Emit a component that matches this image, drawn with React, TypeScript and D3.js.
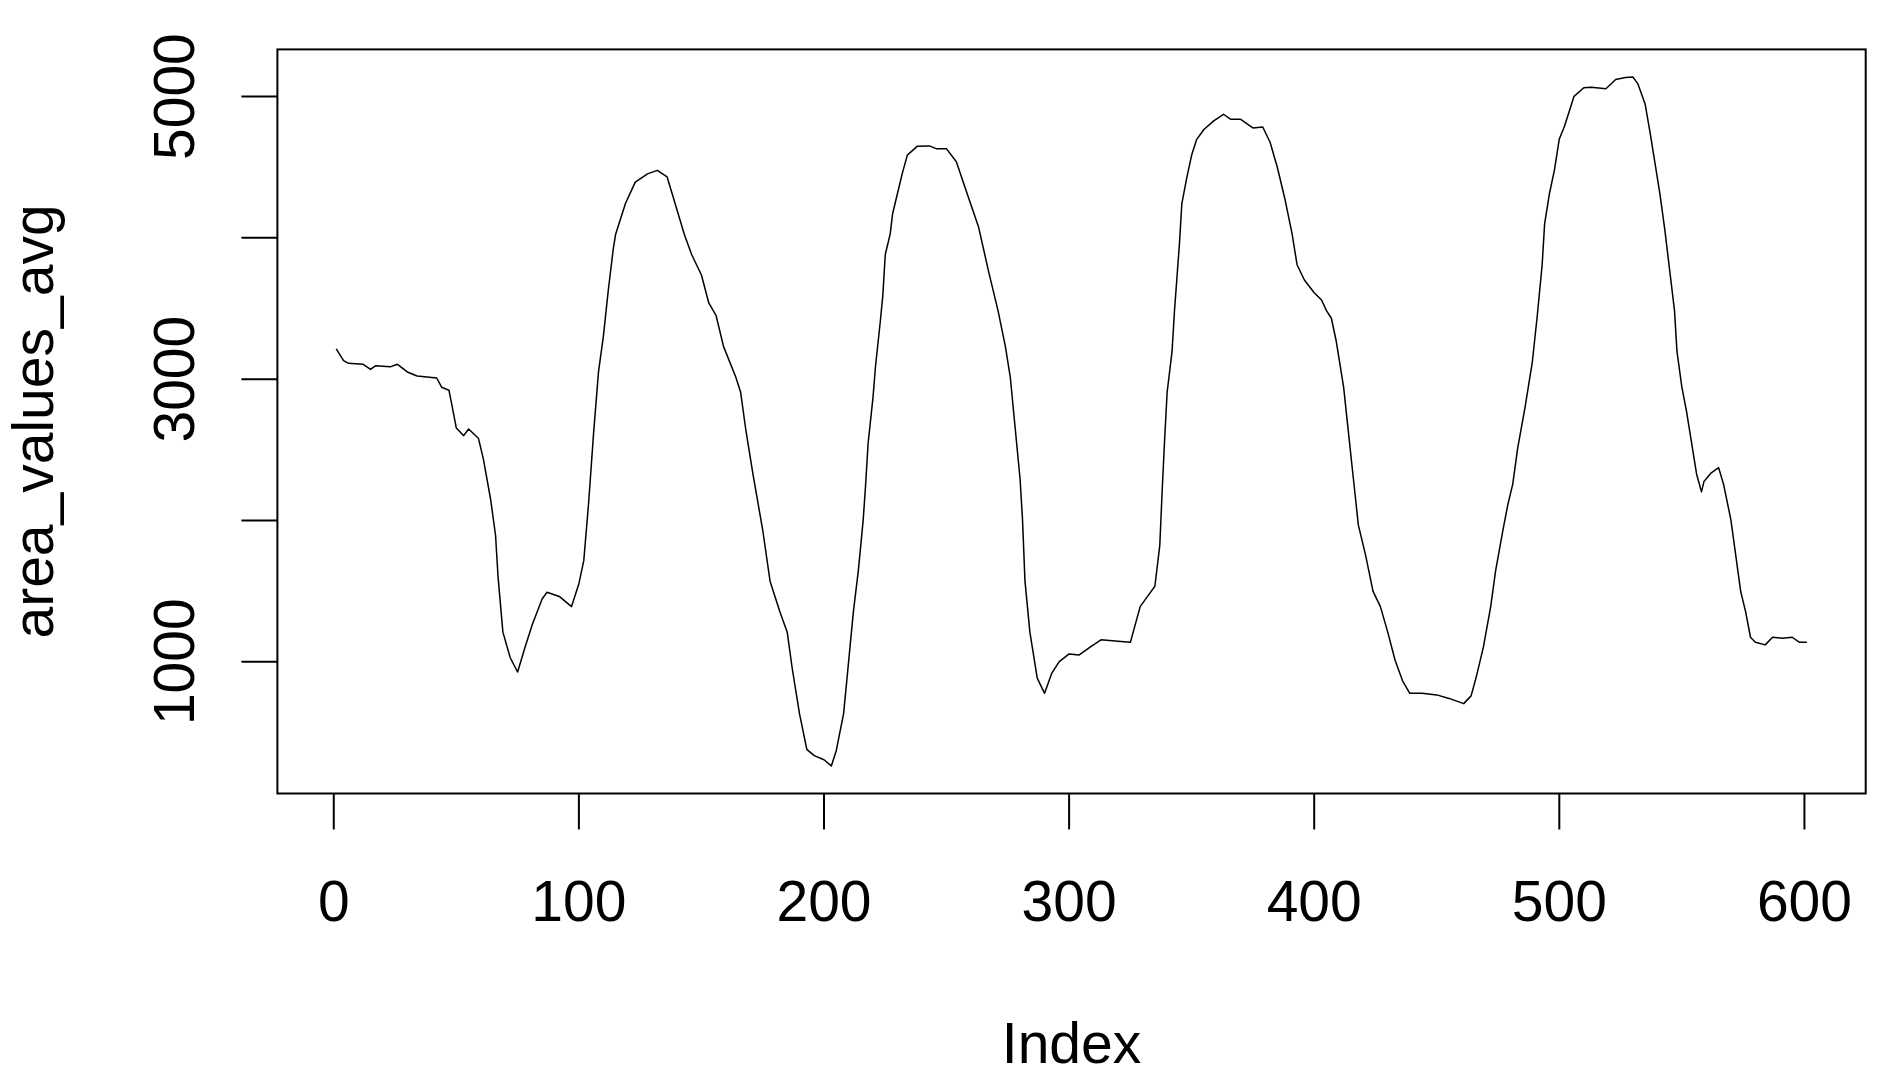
import React from 'react';
import * as d3 from 'd3';

const width = 1891;
const height = 1084;
const margin = { top: 49.4, right: 25.3, bottom: 290.5, left: 277.4 };

// index positions
const indexValues = [
  1, 4, 6, 12, 15, 17, 23, 26, 30, 34, 42, 44, 47, 48, 50, 53, 55, 59, 61, 64,
  66, 67, 69, 72, 75, 78, 81, 85, 87, 92, 97, 100, 102, 104, 106, 108, 110, 112,
  114, 115, 119, 123, 128, 132, 136, 138, 143, 146, 150, 153, 156, 159, 164, 166,
  168, 171, 175, 178, 182, 185, 187, 190, 193, 196, 200, 203, 205, 208, 210, 212,
  214, 216, 217, 218, 220, 221, 223, 224, 225, 227, 228, 230, 232, 234, 238, 243,
  246, 250, 254, 258, 263, 267, 271, 274, 276, 278, 280, 281, 282, 284, 287, 290,
  293, 296, 300, 304, 309, 313, 320, 325, 329, 332, 335, 337, 338, 339, 340, 342,
  343, 345, 346, 348, 350, 352, 355, 359, 363, 366, 370, 375, 379, 382, 385, 388,
  391, 393, 396, 400, 403, 405, 407, 409, 412, 414, 416, 418, 421, 424, 427, 430,
  433, 436, 439, 444, 450, 455, 461, 464, 466, 469, 472, 474, 477, 479, 481, 483,
  486, 489, 491, 493, 494, 496, 498, 500, 502, 504, 506, 510, 513, 519, 523, 527,
  530, 532, 535, 537, 539, 541, 543, 545, 547, 548, 550, 552, 554, 556, 558, 559,
  562, 565, 567, 570, 572, 574, 576, 578, 580, 584, 587, 591, 595, 598, 601,
];

// area_values_avg at those positions
const areaValuesAvg = [
  3214, 3131, 3112, 3105, 3069, 3094, 3087, 3105, 3051, 3022, 3008, 2943, 2921,
  2834, 2654, 2600, 2647, 2582, 2437, 2148, 1895, 1606, 1209, 1028, 927, 1100,
  1263, 1444, 1491, 1462, 1390, 1552, 1715, 2130, 2618, 3051, 3304, 3629, 3918,
  4026, 4243, 4395, 4453, 4478, 4431, 4316, 4026, 3882, 3737, 3539, 3449, 3232,
  3015, 2907, 2654, 2329, 1932, 1570, 1354, 1209, 957, 632, 379, 335, 306, 262,
  370, 632, 993, 1354, 1643, 2004, 2257, 2546, 2871, 3088, 3413, 3593, 3882, 4026,
  4171, 4316, 4460, 4586, 4648, 4651, 4630, 4630, 4539, 4334, 4081, 3774, 3485,
  3232, 3015, 2654, 2293, 2004, 1570, 1209, 884, 776, 921, 1000, 1055, 1047, 1109,
  1155, 1145, 1137, 1390, 1462, 1534, 1823, 2221, 2582, 2907, 3196, 3485, 3954,
  4243, 4424, 4586, 4695, 4767, 4828, 4875, 4839, 4839, 4778, 4785, 4677, 4496,
  4279, 4026, 3810, 3702, 3611, 3560, 3485, 3431, 3268, 2943, 2618, 2293, 1968,
  1751, 1498, 1390, 1209, 1010, 866, 776, 776, 765, 740, 703, 758, 884, 1101, 1390,
  1643, 1932, 2112, 2257, 2510, 2798, 3123, 3449, 3810, 4099, 4316, 4480, 4700,
  4785, 4893, 5002, 5063, 5067, 5056, 5121, 5135, 5139, 5092, 4948, 4749, 4532,
  4316, 4063, 3774, 3485, 3196, 2943, 2762, 2546, 2329, 2202, 2275, 2337, 2373,
  2257, 2004, 1751, 1498, 1354, 1173, 1137, 1119, 1173, 1166, 1173, 1137, 1137,
];

const xTicks = [0, 100, 200, 300, 400, 500, 600];
const yTicks = [1000, 2000, 3000, 4000, 5000];
const yTickLabels = [1000, 3000, 5000];

const font = '"Liberation Sans", Arial, Helvetica, sans-serif';
const fontSize = 57;

// R style 4% padding on both ends
const pad = ([lo, hi]: number[]) => {
  const d = (hi - lo) * 0.04;
  return [lo - d, hi + d];
};

export default function App() {
  const innerWidth = width - margin.left - margin.right;
  const innerHeight = height - margin.top - margin.bottom;

  const xScale = d3
    .scaleLinear()
    .domain(pad(d3.extent(indexValues) as number[]))
    .range([0, innerWidth]);
  const yScale = d3
    .scaleLinear()
    .domain(pad(d3.extent(areaValuesAvg) as number[]))
    .range([innerHeight, 0]);

  const lineGen = d3
    .line<number>()
    .x((_, i) => xScale(indexValues[i]))
    .y((d) => yScale(d));

  const tickLen = 36;

  return (
    <svg
      width={width}
      height={height}
      style={{ position: 'absolute', left: 0, top: 0, background: '#fff' }}
      fontFamily={font}
    >
      <rect width={width} height={height} fill="#fff" />
      <g transform={`translate(${margin.left},${margin.top})`}>
        <path
          d={lineGen(areaValuesAvg) || ''}
          fill="none"
          stroke="#000"
          strokeWidth={1.5}
          strokeLinejoin="round"
        />
        <rect
          x={0}
          y={0}
          width={innerWidth}
          height={innerHeight}
          fill="none"
          stroke="#000"
          strokeWidth={2}
        />
        {xTicks.map((t) => (
          <g key={t} transform={`translate(${xScale(t)},${innerHeight})`}>
            <line y2={tickLen} stroke="#000" strokeWidth={2} />
            <text
              y={127}
              textAnchor="middle"
              fontSize={fontSize}
              fill="#000"
            >
              {t}
            </text>
          </g>
        ))}
        {yTicks.map((t) => (
          <line
            key={t}
            x1={-tickLen}
            x2={0}
            y1={yScale(t)}
            y2={yScale(t)}
            stroke="#000"
            strokeWidth={2}
          />
        ))}
        {yTickLabels.map((t) => (
          <text
            key={t}
            transform={`translate(${194 - margin.left},${yScale(t)}) rotate(-90)`}
            textAnchor="middle"
            fontSize={fontSize}
            fill="#000"
          >
            {t}
          </text>
        ))}
      </g>
      <text
        x={margin.left + innerWidth / 2}
        y={1063}
        textAnchor="middle"
        fontSize={fontSize}
        fill="#000"
      >
        Index
      </text>
      <text
        transform={`translate(53,${margin.top + innerHeight / 2}) rotate(-90)`}
        textAnchor="middle"
        fontSize={fontSize}
        fill="#000"
      >
        area_values_avg
      </text>
    </svg>
  );
}
